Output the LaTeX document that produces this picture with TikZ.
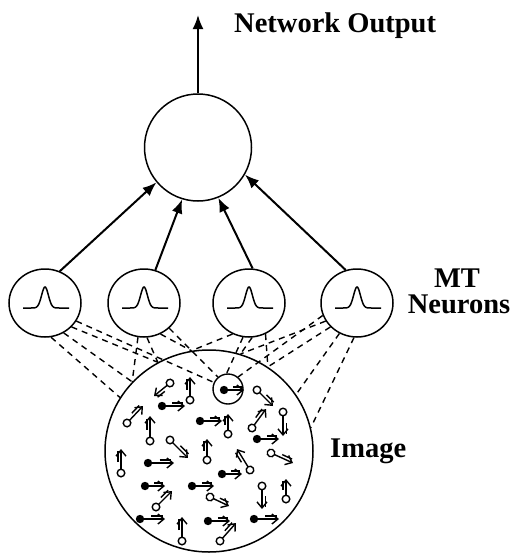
\documentclass[tikz,border=0pt]{standalone}
\usepackage{fontspec}
\setmainfont{Liberation Serif}
\usetikzlibrary{arrows.meta,shapes.geometric,calc}

\newcommand\fvec[4]{%
  \pgfmathsetmacro\vang{atan2(#2-#4,#3-#1)}%
  \pgfmathsetmacro\vlen{veclen(#3-#1,#4-#2)}%
  \begin{scope}[shift={(#1,#2)}, rotate=\vang, y=1pt]
    \fill (0,0) circle (4.2pt);
    \draw[vtip] (0,0) -- (\vlen,0);
    \draw[vline] ({0.45*\vlen},3.2) -- ({0.9*\vlen},3.2);
  \end{scope}}
\newcommand\ovec[4]{%
  \pgfmathsetmacro\vang{atan2(#2-#4,#3-#1)}%
  \pgfmathsetmacro\vlen{veclen(#3-#1,#4-#2)}%
  \begin{scope}[shift={(#1,#2)}, rotate=\vang, y=1pt]
    \draw[vline] (0,0) circle (3.8pt);
    \draw[vtip] (3.8,0) -- (\vlen,0);
    \draw[vline] ({0.45*\vlen},3.2) -- ({0.9*\vlen},3.2);
  \end{scope}}

\begin{document}
\begin{tikzpicture}[x=1pt,y=-1pt,
  lbl/.style={font=\fontsize{28.5}{25}\selectfont\bfseries, inner sep=0},
  unit/.style={draw, line width=1.5pt, ellipse, minimum width=72pt, minimum height=68pt, inner sep=0},
  conn/.style={line width=2pt, -{Latex[length=14pt,width=11pt]}},
  rf/.style={line width=1.4pt, dash pattern=on 6pt off 5pt},
  vline/.style={line width=1.4pt},
  vtip/.style={vline, -{Straight Barb[length=6pt,width=10pt]}},
  bumpline/.style={line width=1.5pt}
]
\useasboundingbox (0,0) rectangle (511,554);

% output unit
\node[draw, circle, line width=1.5pt, minimum size=107pt, inner sep=0] (out) at (198,147.5) {};
\coordinate (top) at (198,15);
\draw[conn] (out.north) -- (top);
\node[lbl, anchor=base west] (outlbl) at (234,32) {Network Output};

% MT neurons
\node[unit] (n1) at (45,303) {};
\node[unit] (n2) at (144,303) {};
\node[unit] (n3) at (249,303) {};
\node[unit] (n4) at (357,303) {};
\foreach \n in {n1,n2,n3,n4}{
  \begin{scope}[shift={(\n.center)}]
    \draw[bumpline] plot[domain=-22:24, samples=80] (\x, {5 - 21*exp(-(\x*\x)/(2*3.4*3.4))});
  \end{scope}}
\node[lbl, anchor=base] (mt) at (457,287) {MT};
\node[lbl, anchor=base] (neu) at (459,313) {Neurons};

\draw[conn] (n1.65) -- (out.220);
\draw[conn] (n2.71) -- (out.253);
\draw[conn] (n3.84) -- (out.292);
\draw[conn] (n4.109) -- (out.330);

% image
\node[draw, ellipse, line width=1.5pt, minimum width=208pt, minimum height=202pt, inner sep=0] (img) at (209,451) {};
\node[draw, circle, line width=1.4pt, minimum size=30pt, inner sep=0] (sc) at (228,389) {};
\node[lbl, anchor=base west] (imlbl) at (330,457) {Image};

% receptive field lines
\draw[rf] (n1.-80) -- (img.149.6);
\draw[rf] (n1.-58) -- (img.138);
\draw[rf] (n1.-42) -- (img.120.6);
\draw[rf] (n1.-30) -- (sc.155);
\draw[rf] (n2.-100) -- (img.138);
\draw[rf] (n2.-85) -- (img.120.6);
\draw[rf] (n2.-62) -- (img.100.9);
\draw[rf] (n2.-45) -- (sc.130);
\draw[rf] (n3.-118) -- (img.100.9);
\draw[rf] (n3.-100) -- (sc.95);
\draw[rf] (n3.-85) -- (img.72.4);
\draw[rf] (n3.-62) -- (img.55.4);
\draw[rf] (n4.-150) -- (img.72.4);
\draw[rf] (n4.-138) -- (img.55.4);
\draw[rf] (n4.-120) -- (img.33.4);
\draw[rf] (n4.-95) -- (img.13);
\draw[rf] (n4.-160) -- (sc.50);

% motion vectors
\ovec{170}{383}{154}{396}
\ovec{190}{400}{190}{377}
\fvec{162}{406}{185}{406}
\fvec{224}{390}{244}{390}
\ovec{257}{390}{273}{406}
\ovec{127}{423}{143}{406}
\ovec{150}{441}{150}{416}
\fvec{200}{421}{222}{421}
\ovec{228}{434}{228}{414}
\ovec{252}{428}{266}{409}
\ovec{283}{412}{283}{436}
\ovec{170}{440}{188}{458}
\ovec{207}{460}{207}{439}
\fvec{257}{439}{279}{439}
\ovec{121}{473}{121}{449}
\fvec{148}{463}{174}{463}
\ovec{250}{470}{237}{449}
\ovec{271}{453}{293}{463}
\fvec{222}{474}{242}{474}
\fvec{145}{486}{165}{486}
\fvec{192}{486}{214}{486}
\ovec{210}{497}{229}{506}
\ovec{262}{486}{262}{509}
\ovec{286}{499}{286}{479}
\ovec{156}{507}{172}{491}
\fvec{140}{519}{165}{519}
\fvec{208}{521}{230}{521}
\fvec{254}{519}{279}{519}
\ovec{182}{541}{182}{517}
\ovec{220}{541}{236}{523}
\end{tikzpicture}
\end{document}
